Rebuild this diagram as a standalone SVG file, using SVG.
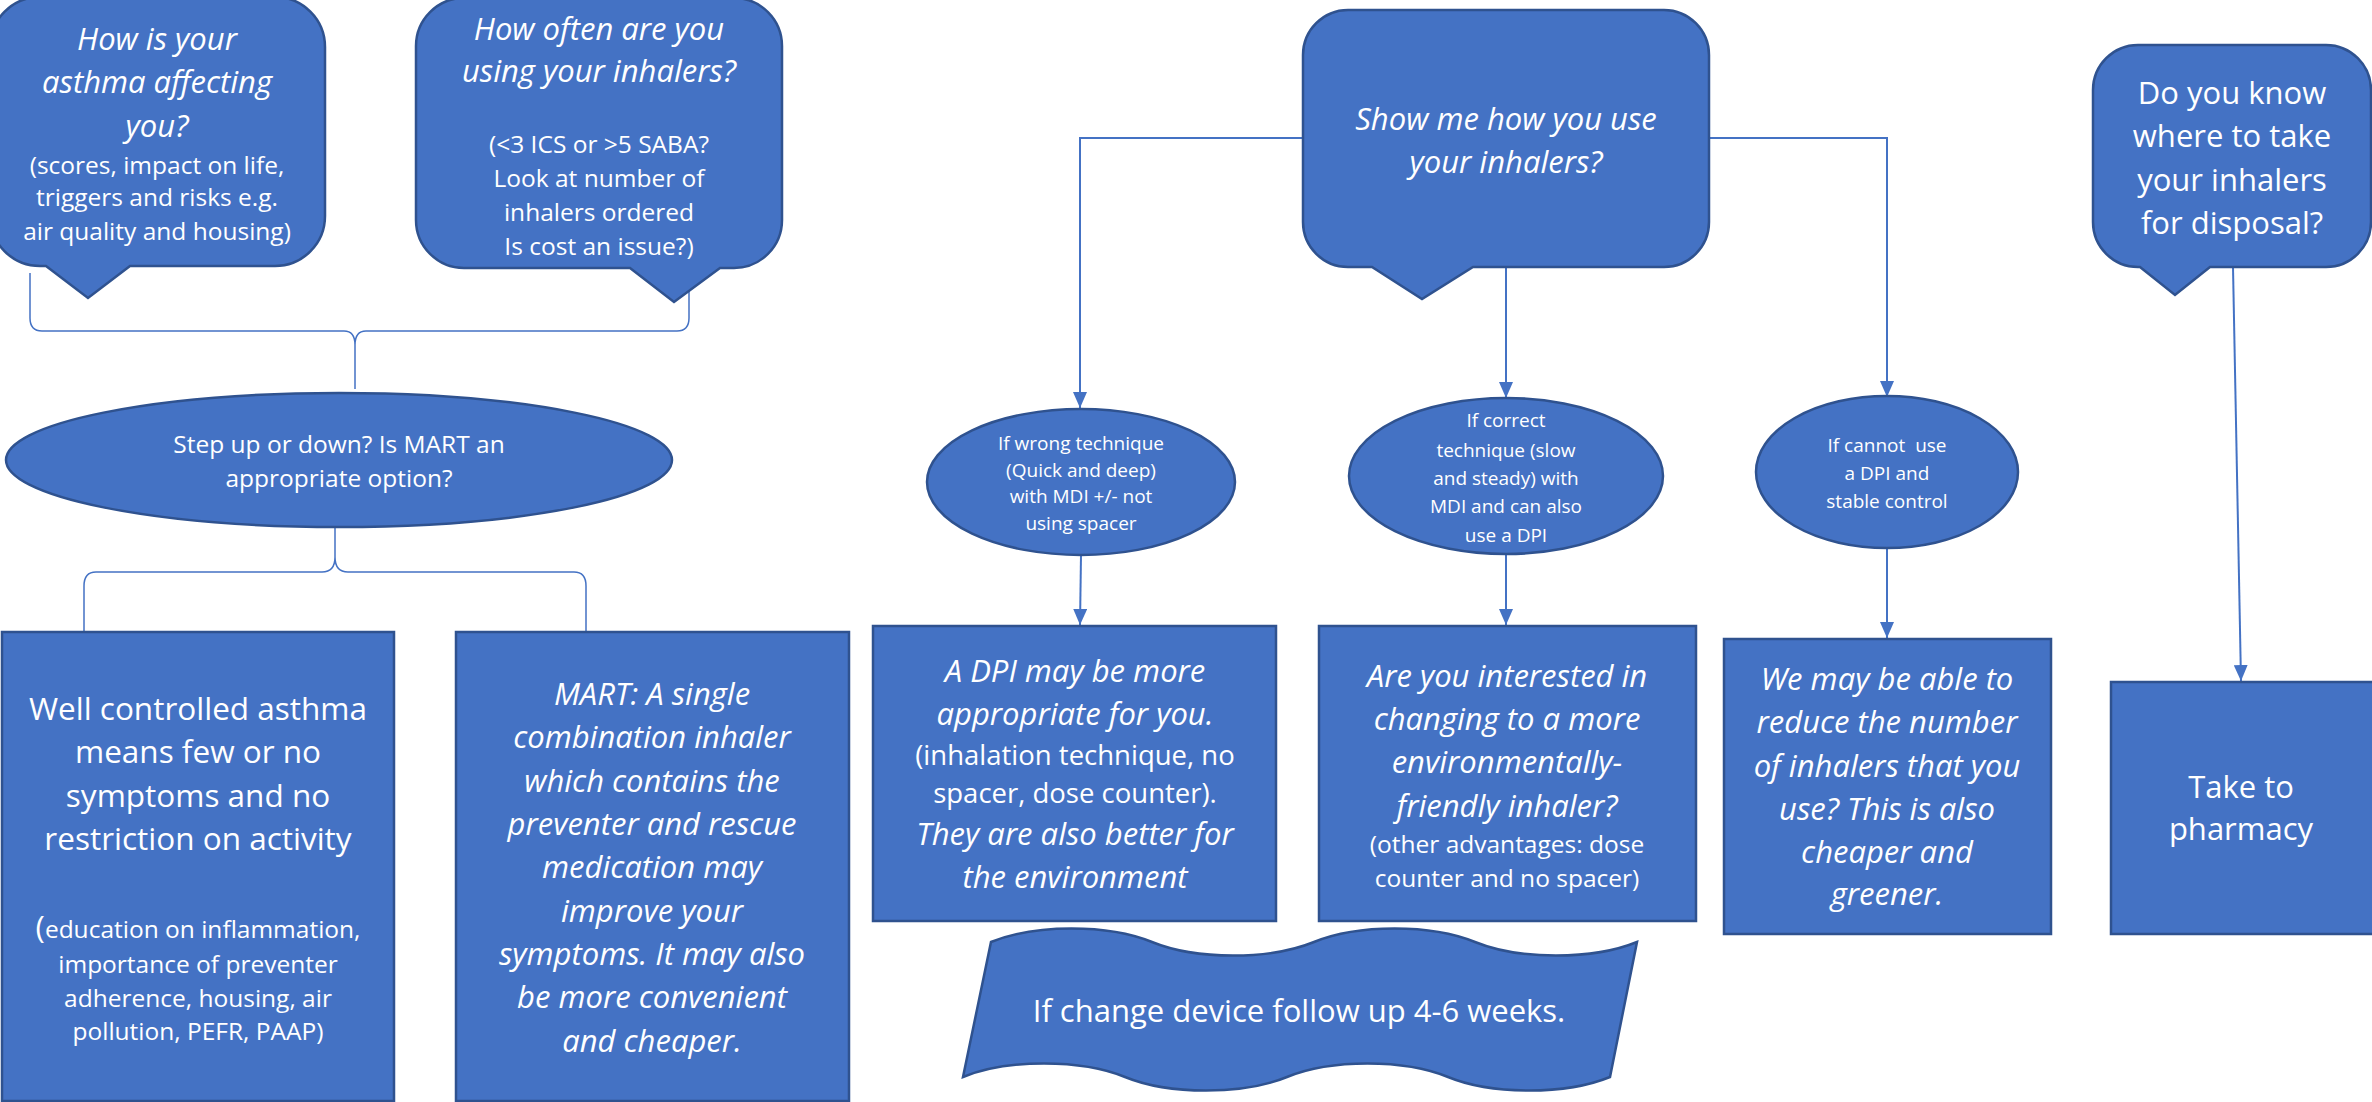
<svg xmlns="http://www.w3.org/2000/svg" width="2372" height="1102" viewBox="0 0 2372 1102">
<style>
.shape{fill:#4472C4;stroke:#2F528F;stroke-width:2.5}
.t{font-family:"Open Sans","Noto Sans","Liberation Sans",sans-serif;fill:#fff;text-anchor:middle}
.i{font-style:italic;font-size:31px}
.big{font-size:31px}
.med{font-size:24.5px}
.sm{font-size:19px}
.conn{fill:none;stroke:#4472C4;stroke-width:2}
.brace{fill:none;stroke:#4472C4;stroke-width:1.5}
</style>
<defs>
<marker id="ah" markerUnits="userSpaceOnUse" markerWidth="16" markerHeight="14" refX="16" refY="7" orient="auto">
<path d="M0,0 L16,7 L0,14 Z" fill="#4472C4"/>
</marker>
</defs>
<rect width="2372" height="1102" fill="#fff"/>

<g id="connectors">
<path class="brace" d="M30,273 L30,318 Q30,331 42,331 L344,331 Q355,331 355,345 L355,389 M355,345 Q355,331 366,331 L677,331 Q689,331 689,318 L689,285"/>
<path class="brace" d="M335,527 L335,557 Q335,572 322,572 L96,572 Q84,572 84,586 L84,632 M335,557 Q335,572 348,572 L574,572 Q586,572 586,586 L586,632"/>
<path class="conn" d="M1303,138 L1080,138 L1080,408" marker-end="url(#ah)"/>
<path class="conn" d="M1709,138 L1887,138 L1887,397" marker-end="url(#ah)"/>
<path class="conn" d="M1506,267 L1506,398" marker-end="url(#ah)"/>
<path class="conn" d="M1081,555 L1080,625" marker-end="url(#ah)"/>
<path class="conn" d="M1506,553 L1506,625" marker-end="url(#ah)"/>
<path class="conn" d="M1887,548 L1887,638" marker-end="url(#ah)"/>
<path class="conn" d="M2233,267 L2241,681" marker-end="url(#ah)"/>
</g>

<g id="q-affecting">
<path class="shape" d="M40,-3 H275 A50,50 0 0 1 325,47 V216 A50,50 0 0 1 275,266 H130 L88,298 L46,266 H40 A50,50 0 0 1 -10,216 V47 A50,50 0 0 1 40,-3 Z"/>
<text class="t i" x="157" y="50">How is your</text>
<text class="t i" x="157" y="93">asthma affecting</text>
<text class="t i" x="157" y="137">you?</text>
<text class="t med" x="157" y="174">(scores, impact on life,</text>
<text class="t med" x="157" y="206">triggers and risks e.g.</text>
<text class="t med" x="157" y="240">air quality and housing)</text>
</g>

<g id="q-often">
<path class="shape" d="M464,-2 H734 A48,48 0 0 1 782,46 V220 A48,48 0 0 1 734,268 H720 L674,302 L630,268 H464 A48,48 0 0 1 416,220 V46 A48,48 0 0 1 464,-2 Z"/>
<text class="t i" x="599" y="40">How often are you</text>
<text class="t i" x="599" y="82">using your inhalers?</text>
<text class="t med" x="599" y="153">(&lt;3 ICS or &gt;5 SABA?</text>
<text class="t med" x="599" y="187">Look at number of</text>
<text class="t med" x="599" y="221">inhalers ordered</text>
<text class="t med" x="599" y="255">Is cost an issue?)</text>
</g>

<g id="q-show">
<path class="shape" d="M1348,10 H1664 A45,45 0 0 1 1709,55 V222 A45,45 0 0 1 1664,267 H1473 L1422,299 L1372,267 H1348 A45,45 0 0 1 1303,222 V55 A45,45 0 0 1 1348,10 Z"/>
<text class="t i" x="1506" y="130">Show me how you use</text>
<text class="t i" x="1506" y="173">your inhalers?</text>
</g>

<g id="q-disposal">
<path class="shape" d="M2138,45 H2326 A45,45 0 0 1 2371,90 V222 A45,45 0 0 1 2326,267 H2210 L2175,295 L2140,267 H2138 A45,45 0 0 1 2093,222 V90 A45,45 0 0 1 2138,45 Z"/>
<text class="t big" x="2232" y="104">Do you know</text>
<text class="t big" x="2232" y="147">where to take</text>
<text class="t big" x="2232" y="191">your inhalers</text>
<text class="t big" x="2232" y="234">for disposal?</text>
</g>

<g id="step">
<ellipse class="shape" cx="339" cy="460" rx="333" ry="67"/>
<text class="t med" x="339" y="453">Step up or down? Is MART an</text>
<text class="t med" x="339" y="487">appropriate option?</text>
</g>

<g id="well-controlled">
<rect class="shape" x="2" y="632" width="392" height="469"/>
<text class="t" style="font-size:31.5px" x="198" y="720">Well controlled asthma</text>
<text class="t" style="font-size:31.5px" x="198" y="763">means few or no</text>
<text class="t" style="font-size:31.5px" x="198" y="807">symptoms and no</text>
<text class="t" style="font-size:31.5px" x="198" y="850">restriction on activity</text>
<text class="t med" x="198" y="938"><tspan style="font-size:31.5px">(</tspan>education on inflammation,</text>
<text class="t med" x="198" y="973">importance of preventer</text>
<text class="t med" x="198" y="1007">adherence, housing, air</text>
<text class="t med" x="198" y="1040">pollution, PEFR, PAAP)</text>
</g>

<g id="mart">
<rect class="shape" x="456" y="632" width="393" height="469"/>
<text class="t i" x="652" y="705">MART: A single</text>
<text class="t i" x="652" y="748">combination inhaler</text>
<text class="t i" x="652" y="792">which contains the</text>
<text class="t i" x="652" y="835">preventer and rescue</text>
<text class="t i" x="652" y="878">medication may</text>
<text class="t i" x="652" y="922">improve your</text>
<text class="t i" x="652" y="965">symptoms. It may also</text>
<text class="t i" x="652" y="1008">be more convenient</text>
<text class="t i" x="652" y="1052">and cheaper.</text>
</g>

<g id="c-wrong">
<ellipse class="shape" cx="1081" cy="482" rx="154" ry="73"/>
<text class="t sm" x="1081" y="450">If wrong technique</text>
<text class="t sm" x="1081" y="477">(Quick and deep)</text>
<text class="t sm" x="1081" y="503">with MDI +/- not</text>
<text class="t sm" x="1081" y="530">using spacer</text>
</g>

<g id="c-correct">
<ellipse class="shape" cx="1506" cy="476" rx="157" ry="78"/>
<text class="t sm" x="1506" y="427">If correct</text>
<text class="t sm" x="1506" y="457">technique (slow</text>
<text class="t sm" x="1506" y="485">and steady) with</text>
<text class="t sm" x="1506" y="513">MDI and can also</text>
<text class="t sm" x="1506" y="542">use a DPI</text>
</g>

<g id="c-cannot">
<ellipse class="shape" cx="1887" cy="472" rx="131" ry="76"/>
<text class="t sm" x="1887" y="452" xml:space="preserve">If cannot  use</text>
<text class="t sm" x="1887" y="480">a DPI and</text>
<text class="t sm" x="1887" y="508">stable control</text>
</g>

<g id="b-dpi">
<rect class="shape" x="873" y="626" width="403" height="295"/>
<text class="t i" x="1075" y="682">A DPI may be more</text>
<text class="t i" x="1075" y="725">appropriate for you.</text>
<text class="t" style="font-size:27.5px" x="1075" y="765">(inhalation technique, no</text>
<text class="t" style="font-size:27.5px" x="1075" y="803">spacer, dose counter).</text>
<text class="t i" x="1075" y="845">They are also better for</text>
<text class="t i" x="1075" y="888">the environment</text>
</g>

<g id="b-interested">
<rect class="shape" x="1319" y="626" width="377" height="295"/>
<text class="t i" x="1507" y="687">Are you interested in</text>
<text class="t i" x="1507" y="730">changing to a more</text>
<text class="t i" x="1507" y="773">environmentally-</text>
<text class="t i" x="1507" y="817">friendly inhaler?</text>
<text class="t med" x="1507" y="853">(other advantages: dose</text>
<text class="t med" x="1507" y="887">counter and no spacer)</text>
</g>

<g id="b-reduce">
<rect class="shape" x="1724" y="639" width="327" height="295"/>
<text class="t i" x="1887" y="690">We may be able to</text>
<text class="t i" x="1887" y="733">reduce the number</text>
<text class="t i" x="1887" y="777">of inhalers that you</text>
<text class="t i" x="1887" y="820">use? This is also</text>
<text class="t i" x="1887" y="863">cheaper and</text>
<text class="t i" x="1887" y="905">greener.</text>
</g>

<g id="b-pharmacy">
<rect class="shape" x="2111" y="682" width="264" height="252"/>
<text class="t big" x="2241" y="798">Take to</text>
<text class="t big" x="2241" y="840">pharmacy</text>
</g>

<g id="followup">
<path class="shape" d="M991,942 C1035,924 1108,924 1152,942 C1196,960 1270,960 1314,942 C1358,924 1431,924 1475,942 C1519,960 1593,960 1637,942 L1610,1077 C1566,1095 1492,1095 1448,1077 C1404,1059 1331,1059 1287,1077 C1243,1095 1169,1095 1125,1077 C1081,1059 1007,1059 963,1077 Z"/>
<text class="t big" x="1299" y="1022">If change device follow up 4-6 weeks.</text>
</g>
</svg>
